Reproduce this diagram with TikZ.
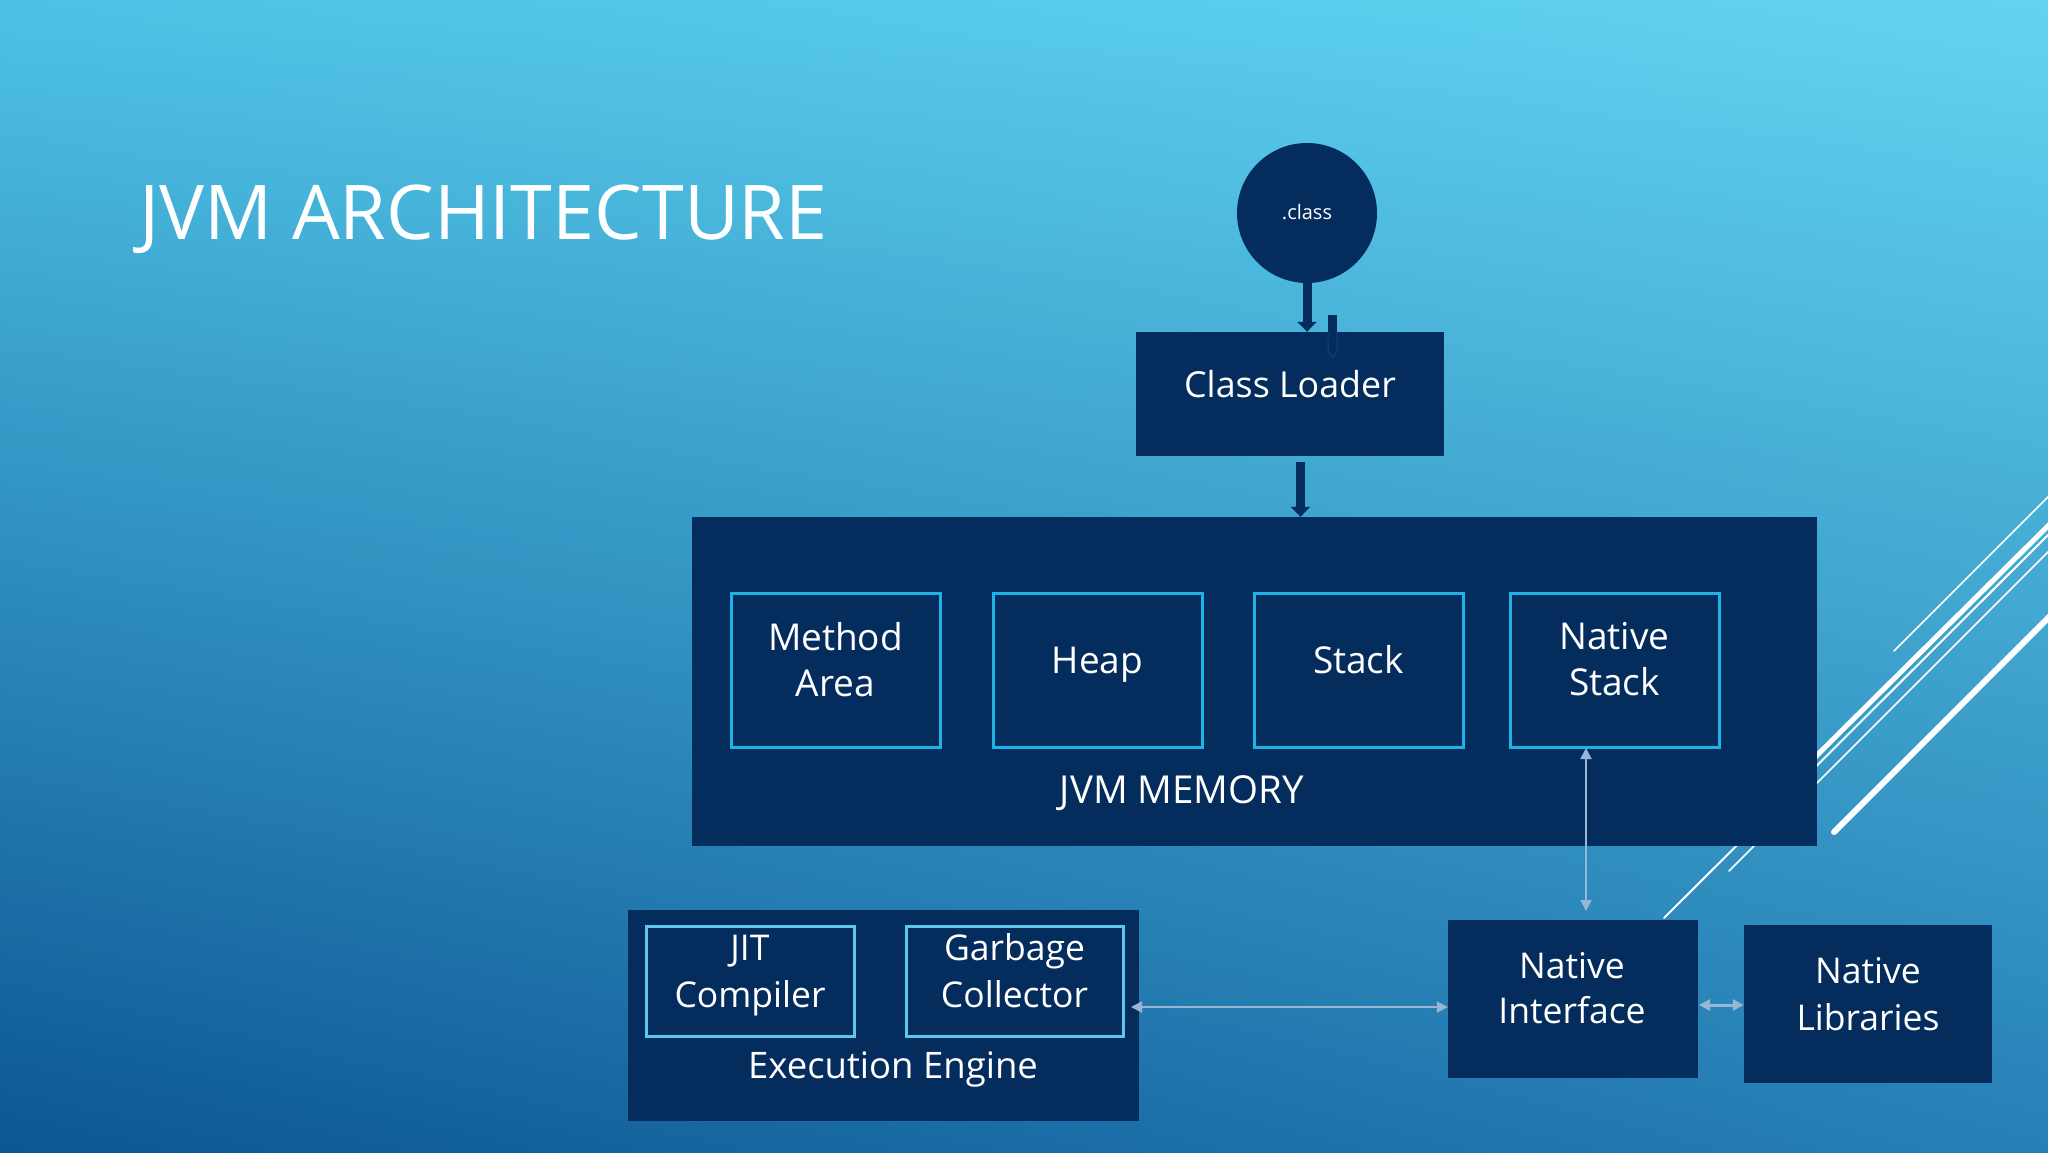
\documentclass[tikz,border=0pt]{standalone}
\usepackage{fontspec}
\setmainfont{Open Sans}
\usetikzlibrary{arrows.meta,calc,shadings}
\definecolor{navy}{RGB}{4,44,92}
\definecolor{navyedge}{RGB}{22,64,114}
\definecolor{cellb}{RGB}{30,178,230}
\definecolor{eeb}{RGB}{92,200,240}
\definecolor{lightarr}{RGB}{150,182,212}
\definecolor{bgul}{RGB}{78,194,230}
\definecolor{bgur}{RGB}{98,212,240}
\definecolor{bgll}{RGB}{12,86,146}
\definecolor{bglr}{RGB}{38,128,182}
\tikzset{
  box/.style={fill=navy, draw=none, inner sep=0pt, minimum width=#1},
  cell/.style={fill=navy, draw=cellb, line width=3pt, inner sep=0pt, minimum width=209pt, minimum height=154pt},
  subbox/.style={fill=navy, draw=eeb, line width=3pt, inner sep=0pt, minimum height=110pt},
  lbl/.style={text=white, inner sep=0pt, align=center, anchor=base},
  fat/.style={draw=navy, line width=9pt, -{Triangle[width=19pt,length=10pt]}},
  thinarr/.style={draw=lightarr, line width=2pt, {Triangle[width=11pt,length=11pt]}-{Triangle[width=11pt,length=11pt]}},
  deco/.style={draw=white, line cap=round}
}
\begin{document}
\begin{tikzpicture}[x=1pt,y=-1pt]
\useasboundingbox (0,0) rectangle (2048,1152);
\shade[upper left=bgul, upper right=bgur, lower left=bgll, lower right=bglr] (0,0) rectangle (2048,1152);

% decorative lines
\draw[deco, line width=1.6pt] (1894,651) -- (2060,485);
\draw[deco, line width=5pt] (1790,782) -- (2060,514);
\draw[deco, line width=2pt] (1664,918) -- (2060,523);
\draw[deco, line width=1.5pt] (1729,871) -- (2060,540);
\draw[deco, line width=6pt] (1834,832) -- (2060,606);

% title
\node[text=white, inner sep=0pt, anchor=base west, font=\fontsize{75.5}{90}\selectfont] (title) at (139,239) {JVM ARCHITECTURE};

% .class circle
\node[circle, fill=navy, inner sep=0pt, minimum size=140pt] (circ) at (1307,213) {};
\node[text=white, inner sep=0pt, font=\fontsize{20}{24}\selectfont] (circt) at (1307,212) {.class};

% class loader
\node[box=308pt, minimum height=124pt] (cl) at (1290,394) {};
\node[lbl, font=\fontsize{35.8}{44}\selectfont] (clt) at (1290,397) {Class Loader};

% memory
\node[box=1125pt, minimum height=329pt] (mem) at (1254.5,681.5) {};
\node[cell] (ma) at (835.5,670) {};
\node[cell] (heap) at (1097.5,670) {};
\node[cell] (stack) at (1358.5,670) {};
\node[cell] (nstack) at (1614.5,670) {};
\node[lbl, font=\fontsize{37}{46}\selectfont] (mat) at (835.5,696) {Method\\Area};
\node[lbl, font=\fontsize{37}{46}\selectfont] (heapt) at (1097.5,673) {Heap};
\node[lbl, font=\fontsize{37}{46}\selectfont] (stackt) at (1358.5,673) {Stack};
\node[lbl, font=\fontsize{37}{46}\selectfont] (nstackt) at (1614.5,695) {Native\\Stack};
\node[lbl, font=\fontsize{38.5}{46}\selectfont] (memt) at (1182,803) {JVM MEMORY};

% execution engine
\node[box=511pt, minimum height=211pt] (ee) at (883.5,1015.5) {};
\node[subbox, minimum width=208pt] (jit) at (750,981) {};
\node[subbox, minimum width=217pt] (gc) at (1014.5,981) {};
\node[lbl, font=\fontsize{35.5}{47}\selectfont] (jitt) at (750,1007) {JIT\\Compiler};
\node[lbl, font=\fontsize{35.5}{47}\selectfont] (gct) at (1014.5,1007) {Garbage\\Collector};
\node[lbl, font=\fontsize{36.5}{47}\selectfont] (eet) at (893,1078) {Execution Engine};

% native interface / libraries
\node[box=250pt, minimum height=158pt] (ni) at (1573,999) {};
\node[box=248pt, minimum height=158pt] (nl) at (1868,1004) {};
\node[lbl, font=\fontsize{35.5}{45}\selectfont] (nit) at (1572,1023) {Native\\Interface};
\node[lbl, font=\fontsize{35.5}{47}\selectfont] (nlt) at (1868,1030) {Native\\Libraries};

% thick dark arrows
\draw[fat] ([yshift=5pt]circ.south) -- (circ.south |- cl.north);
\coordinate (stubtop) at (1332.5,315);
\draw[draw=navy, line width=9pt] (stubtop) -- (stubtop |- cl.north);
\draw[draw=navyedge, line width=1pt] (1328,332) -- (1328,351) -- (1332.5,358) -- (1337,351) -- (1337,332);
\coordinate (clout) at (1300.5,462);
\draw[fat] (clout) -- (clout |- mem.north);

% light arrows
\coordinate (va) at (1586,748);
\coordinate (vb) at (1586,911);
\draw[thinarr] (va) -- (vb);
\coordinate (ha) at (1131,1007);
\draw[thinarr] (ha) -- (ha -| ni.west);
\coordinate (hb) at (1699,1005);
\draw[thinarr, line width=3pt] (hb) -- (hb -| nl.west);
\end{tikzpicture}
\end{document}
